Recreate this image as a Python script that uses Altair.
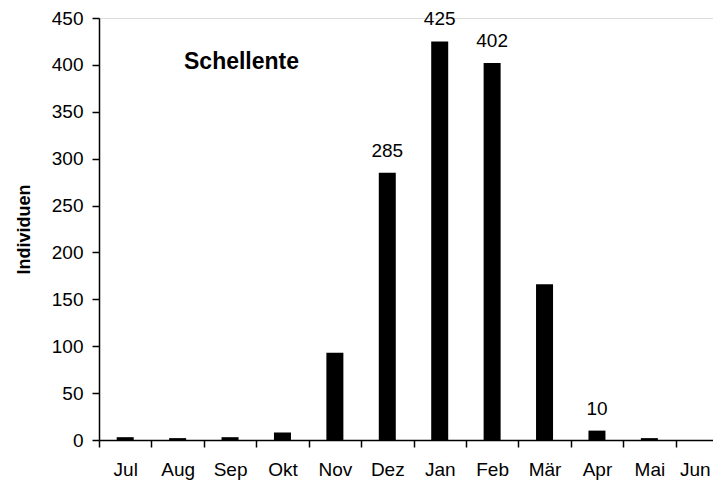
import altair as alt
import pandas as pd

months = ["Jul", "Aug", "Sep", "Okt", "Nov", "Dez", "Jan", "Feb", "Mär", "Apr", "Mai", "Jun"]
values = [3, 2, 3, 8, 93, 285, 425, 402, 166, 10, 2, 0]
shown_labels = ["", "", "", "", "", "285", "425", "402", "", "10", "", ""]

df = pd.DataFrame({"Monat": months, "Individuen": values, "label": shown_labels})

FONT = "Liberation Sans"

x = alt.X("Monat:N", sort=months, title=None,
          scale=alt.Scale(paddingInner=0, paddingOuter=0, range=[0, 629]),
          axis=alt.Axis(tickBand="extent", labelAngle=0, labelFontSize=19, labelFont=FONT,
                        labelColor="black", domainColor="black", tickColor="black",
                        domainWidth=1.5, tickWidth=1.5,
                        labelOffset={"expr": "datum.value === 'Jun' ? -7 : 0"},
                        tickSize=7, labelPadding=13, grid=False))
y = alt.Y("Individuen:Q", title="Individuen",
          scale=alt.Scale(domain=[0, 450], nice=False),
          axis=alt.Axis(values=list(range(0, 451, 50)), labelFontSize=19, labelFont=FONT,
                        labelColor="black", domainColor="black", tickColor="black",
                        domainWidth=1.5, tickWidth=1.5,
                        tickSize=7, labelPadding=9, grid=False,
                        titleFont=FONT, titleFontSize=18, titleFontWeight="bold",
                        titleColor="black", titleX=-75, titleY=211, titleBaseline="middle",
                        titleAngle=270))

bars = alt.Chart(df).mark_bar(size=17, color="black").encode(x=x, y=y)

texts = alt.Chart(df).mark_text(baseline="alphabetic", dy=-16, fontSize=19, font=FONT,
                                color="black").encode(
    x=alt.X("Monat:N", sort=months), y="Individuen:Q", text="label:N")

title_df = pd.DataFrame({"t": ["Schellente"]})
title = alt.Chart(title_df).mark_text(fontSize=23, font=FONT, fontWeight="bold", color="black",
                                      align="left", baseline="alphabetic").encode(
    x=alt.value(85), y=alt.value(51), text="t:N")

chart = alt.layer(bars, texts, title).properties(
    width=614, height=422,
    autosize=alt.AutoSizeParams(type="none"),
    padding={"left": 91, "top": 10, "right": 0, "bottom": 44}
).configure_view(stroke=None).configure(background="white")

chart.save("out.html", embed_options={"renderer": "svg", "actions": False})
